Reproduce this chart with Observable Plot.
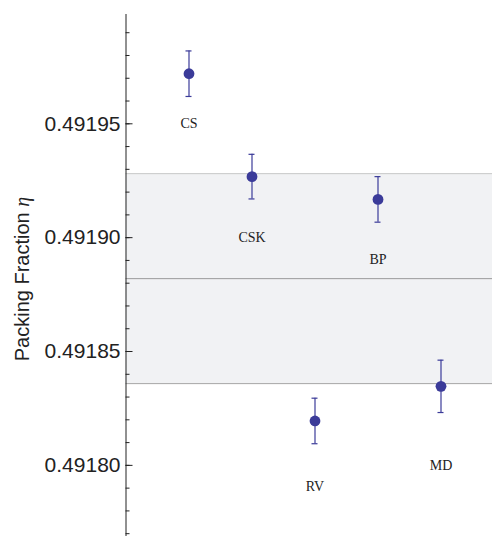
<!DOCTYPE html>
<html>
<head>
<meta charset="utf-8">
<script src="https://cdn.jsdelivr.net/npm/d3@7"></script>
<script src="https://cdn.jsdelivr.net/npm/@observablehq/plot@0.6"></script>
<style>
  html, body { margin: 0; padding: 0; background: #fff; }
</style>
</head>
<body>
<div id="chart"></div>
<script>
// Data
const names = ["CS", "CSK", "RV", "BP", "MD"];
const eta = [0.491972, 0.4919268, 0.4918195, 0.4919168, 0.4918347];
const err = [0.0000100, 0.0000098, 0.0000100, 0.0000100, 0.0000115];
const labelEta = [0.491950, 0.4919, 0.4917905, 0.4918905, 0.4918];
const bandMean = 0.491882;
const bandSigma = 0.0000461;
const majorTicks = [0.49180, 0.49185, 0.49190, 0.49195];
const minorTicks = [0.49177, 0.49178, 0.49179, 0.49180, 0.49181, 0.49182, 0.49183, 0.49184, 0.49185, 0.49186, 0.49187, 0.49188, 0.49189, 0.49190, 0.49191, 0.49192, 0.49193, 0.49194, 0.49195, 0.49196, 0.49197, 0.49198, 0.49199];
const yLabel = "Packing Fraction η";

const data = names.map((n, i) => ({name: n, eta: eta[i], lo: eta[i] - err[i], hi: eta[i] + err[i], ly: labelEta[i]}));
const band = [{y1: bandMean - bandSigma, y2: bandMean + bandSigma, m: bandMean}];

const color = "#3b3b99";
const inkColor = "#222";
const capInset = 28.5;

const plot = Plot.plot({
  width: 492,
  height: 536,
  marginLeft: 125.5,
  marginRight: 0,
  marginTop: 14,
  marginBottom: 1,
  style: {fontFamily: "'Liberation Sans', Arial, sans-serif", background: "#fff", color: inkColor},
  x: {type: "band", domain: names, paddingInner: 0, paddingOuter: 0.4087, align: 0.608, axis: null},
  y: {domain: [0.4917692, 0.4919980], label: null, axis: null},
  marks: [
    Plot.rectY(band, {y1: "y1", y2: "y2", fill: "#f1f2f4"}),
    Plot.ruleY(band, {y: "y2", stroke: "#c8c8c8", strokeWidth: 1}),
    Plot.ruleY(band, {y: "m", stroke: "#9a9a9a", strokeWidth: 1}),
    Plot.ruleY(band, {y: "y1", stroke: "#a6a6a6", strokeWidth: 1}),
    Plot.frame({anchor: "left", stroke: inkColor}),
    Plot.axisY({ticks: majorTicks, tickFormat: d3.format(".5f"), tickSize: 0, tickPadding: 5.5, fontSize: 21, label: null, fill: inkColor}),
    Plot.axisY({ticks: majorTicks, tickFormat: () => "", tickSize: 7, dx: 7, label: null, stroke: inkColor}),
    Plot.axisY({ticks: minorTicks, tickFormat: () => "", tickSize: 4, dx: 4, label: null, stroke: inkColor}),
    Plot.ruleX(data, {x: "name", y1: "lo", y2: "hi", stroke: color, strokeWidth: 1.2}),
    Plot.tickY(data, {x: "name", y: "lo", stroke: color, strokeWidth: 1.2, insetLeft: capInset, insetRight: capInset}),
    Plot.tickY(data, {x: "name", y: "hi", stroke: color, strokeWidth: 1.2, insetLeft: capInset, insetRight: capInset}),
    Plot.dot(data, {x: "name", y: "eta", r: 5.4, fill: color, stroke: "none"}),
    Plot.text(data, {x: "name", y: "ly", text: "name", fontSize: 14, fontFamily: "'Liberation Serif', 'Times New Roman', serif", fill: inkColor}),
    Plot.text([yLabel], {frameAnchor: "left", dx: -103.5, dy: 4, rotate: -90, fontSize: 20, textAnchor: "middle", fill: inkColor})
  ]
});

document.getElementById("chart").appendChild(plot);

// Italicize the eta symbol in the y-axis label
d3.select(plot).selectAll("text").each(function() {
  const t = d3.select(this);
  if (t.text() === yLabel) {
    t.text(null);
    t.append("tspan").text("Packing Fraction ");
    t.append("tspan").attr("font-family", "'Liberation Serif', 'Times New Roman', serif").attr("font-style", "italic").text("η");
  }
});
</script>
</body>
</html>
